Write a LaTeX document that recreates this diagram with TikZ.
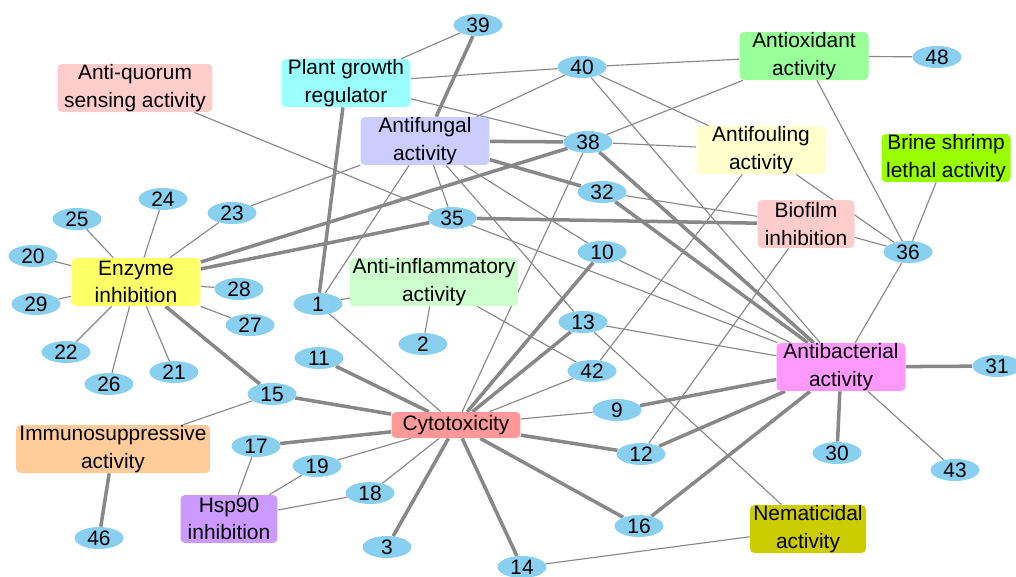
\documentclass[tikz,border=0pt]{standalone}
\usepackage{fontspec}
\setmainfont{Liberation Sans}
\usetikzlibrary{shapes.geometric,backgrounds}

\definecolor{cmpdblue}{RGB}{137,207,240}
\definecolor{lnkgray}{RGB}{136,136,136}

\begin{document}
\begin{tikzpicture}[x=0.02cm, y=-0.02cm,
    act/.style={rectangle, rounded corners=2.5pt, inner sep=0pt, minimum width=2.58cm,
      minimum height=0.96cm, align=center, font=\fontsize{11.9}{15.6}\selectfont},
    cmpd/.style={ellipse, fill=cmpdblue, inner sep=0pt, minimum width=0.98cm,
      minimum height=0.44cm, font=\fontsize{11.9}{14}\selectfont},
    lnk/.style={draw=lnkgray, line width=0.65pt},
    lnkb/.style={draw=lnkgray, line width=2pt}]
    \useasboundingbox (0,0) rectangle (1016,576);

    %Activities
    \node[act, fill={rgb,255:red,255;green,204;blue,204}, minimum width=3.1cm] (aq) at (135,88) {Anti-quorum\\sensing activity};
    \node[act, fill={rgb,255:red,153;green,255;blue,255}] (pgr) at (346,83) {Plant growth\\regulator};
    \node[act, fill={rgb,255:red,204;green,204;blue,255}] (af) at (425,141) {Antifungal\\activity};
    \node[act, fill={rgb,255:red,153;green,255;blue,153}] (ao) at (804,56) {Antioxidant\\activity};
    \node[act, fill={rgb,255:red,255;green,255;blue,204}] (afo) at (761,150) {Antifouling\\activity};
    \node[act, fill={rgb,255:red,153;green,255;blue,0}] (bs) at (946,158) {Brine shrimp\\lethal activity};
    \node[act, fill={rgb,255:red,255;green,204;blue,204}, minimum width=1.94cm] (bi) at (806,224) {Biofilm\\inhibition};
    \node[act, fill={rgb,255:red,255;green,255;blue,102}] (ei) at (136,282) {Enzyme\\inhibition};
    \node[act, fill={rgb,255:red,204;green,255;blue,204}, minimum width=3.36cm] (ai) at (434,282) {Anti-inflammatory\\activity};
    \node[act, fill={rgb,255:red,255;green,153;blue,255}] (ab) at (841,367) {Antibacterial\\activity};
    \node[act, fill={rgb,255:red,255;green,153;blue,153}, minimum height=0.52cm] (cy) at (456,425) {Cytotoxicity};
    \node[act, fill={rgb,255:red,255;green,204;blue,153}, minimum width=3.88cm] (is) at (113,449) {Immunosuppressive\\activity};
    \node[act, fill={rgb,255:red,204;green,153;blue,255}, minimum width=1.94cm] (hsp) at (229,519) {Hsp90\\inhibition};
    \node[act, fill={rgb,255:red,204;green,204;blue,0}, minimum width=2.32cm] (ne) at (808,529) {Nematicidal\\activity};

    %Compounds
    \node[cmpd] (c39) at (478,25) {39};
    \node[cmpd] (c40) at (582,67) {40};
    \node[cmpd] (c48) at (937,57) {48};
    \node[cmpd] (c38) at (588,142) {38};
    \node[cmpd] (c32) at (602,192) {32};
    \node[cmpd] (c10) at (602,252) {10};
    \node[cmpd] (c13) at (583,322) {13};
    \node[cmpd] (c35) at (452,218) {35};
    \node[cmpd] (c23) at (232,213) {23};
    \node[cmpd] (c24) at (163,199) {24};
    \node[cmpd] (c25) at (77,219) {25};
    \node[cmpd] (c20) at (33,256) {20};
    \node[cmpd] (c28) at (239,289) {28};
    \node[cmpd] (c29) at (36,304) {29};
    \node[cmpd] (c27) at (250,325) {27};
    \node[cmpd] (c22) at (66,352) {22};
    \node[cmpd] (c21) at (174,372) {21};
    \node[cmpd] (c26) at (109,384) {26};
    \node[cmpd] (c15) at (272,394) {15};
    \node[cmpd] (c1) at (318,304) {1};
    \node[cmpd] (c2) at (423,344) {2};
    \node[cmpd] (c11) at (319,358) {11};
    \node[cmpd] (c17) at (256,446) {17};
    \node[cmpd] (c19) at (317,466) {19};
    \node[cmpd] (c18) at (370,493) {18};
    \node[cmpd] (c3) at (387,547) {3};
    \node[cmpd] (c46) at (99,538) {46};
    \node[cmpd] (c42) at (592,371) {42};
    \node[cmpd] (c9) at (617,410) {9};
    \node[cmpd] (c12) at (641,454) {12};
    \node[cmpd] (c16) at (639,526) {16};
    \node[cmpd] (c14) at (522,567) {14};
    \node[cmpd] (c30) at (837,453) {30};
    \node[cmpd] (c43) at (955,470) {43};
    \node[cmpd] (c31) at (997,366) {31};
    \node[cmpd] (c36) at (908,252) {36};

    %Links
    \begin{pgfonlayer}{background}
    \draw[lnk] (pgr) -- (c39);
    \draw[lnk] (pgr) -- (c40);
    \draw[lnk] (pgr) -- (c38);
    \draw[lnk] (aq) -- (c35);
    \draw[lnk] (af) -- (c23);
    \draw[lnk] (af) -- (c1);
    \draw[lnk] (af) -- (c35);
    \draw[lnk] (af) -- (c40);
    \draw[lnk] (af) -- (c13);
    \draw[lnk] (af) -- (c10);
    \draw[lnk] (c40) -- (ao);
    \draw[lnk] (c40) -- (afo);
    \draw[lnk] (c40) -- (ab);
    \draw[lnk] (c38) -- (ao);
    \draw[lnk] (c38) -- (afo);
    \draw[lnk] (c38) -- (cy);
    \draw[lnk] (c32) -- (bi);
    \draw[lnk] (afo) -- (c36);
    \draw[lnk] (afo) -- (c42);
    \draw[lnk] (bi) -- (c12);
    \draw[lnk] (bi) -- (c36);
    \draw[lnk] (ao) -- (c48);
    \draw[lnk] (ao) -- (c36);
    \draw[lnk] (bs) -- (c36);
    \draw[lnk] (c36) -- (ab);
    \draw[lnk] (ei) -- (c23);
    \draw[lnk] (ei) -- (c24);
    \draw[lnk] (ei) -- (c25);
    \draw[lnk] (ei) -- (c20);
    \draw[lnk] (ei) -- (c29);
    \draw[lnk] (ei) -- (c28);
    \draw[lnk] (ei) -- (c27);
    \draw[lnk] (ei) -- (c22);
    \draw[lnk] (ei) -- (c26);
    \draw[lnk] (ei) -- (c21);
    \draw[lnk] (c15) -- (is);
    \draw[lnk] (c1) -- (ai);
    \draw[lnk] (c1) -- (cy);
    \draw[lnk] (ai) -- (c2);
    \draw[lnk] (ai) -- (c42);
    \draw[lnk] (c42) -- (cy);
    \draw[lnk] (c13) -- (ab);
    \draw[lnk] (c13) -- (ne);
    \draw[lnk] (c9) -- (cy);
    \draw[lnk] (c17) -- (hsp);
    \draw[lnk] (c19) -- (hsp);
    \draw[lnk] (c19) -- (cy);
    \draw[lnk] (c18) -- (hsp);
    \draw[lnk] (c18) -- (cy);
    \draw[lnk] (c14) -- (ne);
    \draw[lnk] (ab) -- (c43);
    \draw[lnk] (c35) -- (ab);
    \draw[lnk] (c10) -- (ab);
    % strong links
    \draw[lnkb] (c39) -- (af);
    \draw[lnkb] (pgr) -- (c1);
    \draw[lnkb] (af) -- (c38);
    \draw[lnkb] (af) -- (c32);
    \draw[lnkb] (ei) -- (c38);
    \draw[lnkb] (ei) -- (c35);
    \draw[lnkb] (c35) -- (bi);
    \draw[lnkb] (c38) -- (ab);
    \draw[lnkb] (c32) -- (ab);
    \draw[lnkb] (ei) -- (c15);
    \draw[lnkb] (c15) -- (cy);
    \draw[lnkb] (c11) -- (cy);
    \draw[lnkb] (c17) -- (cy);
    \draw[lnkb] (cy) -- (c10);
    \draw[lnkb] (cy) -- (c13);
    \draw[lnkb] (cy) -- (c12);
    \draw[lnkb] (cy) -- (c16);
    \draw[lnkb] (cy) -- (c3);
    \draw[lnkb] (cy) -- (c14);
    \draw[lnkb] (c9) -- (ab);
    \draw[lnkb] (c12) -- (ab);
    \draw[lnkb] (c16) -- (ab);
    \draw[lnkb] (ab) -- (c31);
    \draw[lnkb] (ab) -- (c30);
    \draw[lnkb] (is) -- (c46);
    \end{pgfonlayer}

\end{tikzpicture}
\end{document}
